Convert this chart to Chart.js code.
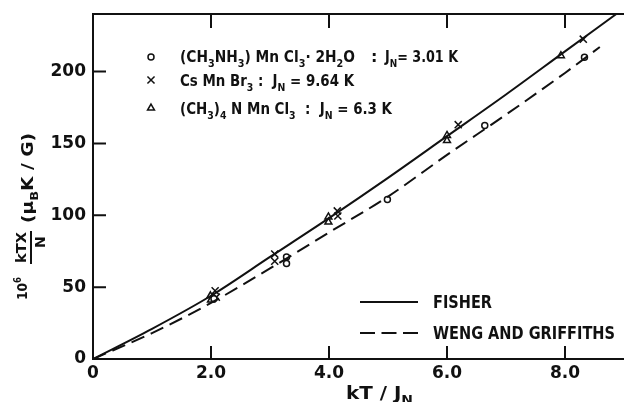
<!DOCTYPE html>
<html>
<head>
<meta charset="utf-8">
<script src="https://cdn.jsdelivr.net/npm/chart.js@4.4.0/dist/chart.umd.min.js"></script>
<style>
  body { margin: 0; background: #fff; }
  #wrap { width: 624px; height: 402px; }
</style>
</head>
<body>
<div id="wrap"><canvas id="chart" width="624" height="402"></canvas></div>
<script>
// curves
const fisherX = [0, 1, 2, 3, 4, 5, 6, 7, 8, 8.87];
const fisherY = [0, 21, 44, 71, 98, 126, 155, 184, 214, 240];
const wengX = [0, 1, 2, 3, 4, 5, 6, 7, 8, 8.59];
const wengY = [0, 18, 39, 63, 88, 113, 142, 170, 199, 217];

// measured points
const circleX = [2.05, 3.28, 3.28, 4.99, 6.64, 8.33];
const circleY = [42, 71, 66.5, 111, 162.5, 210];
const crossX = [2.07, 2.09, 3.08, 3.08, 4.14, 4.15, 6.19, 8.31];
const crossY = [47.5, 43, 73, 68, 103, 99.5, 163, 222.5];
const triX = [1.99, 2.0, 3.99, 3.99, 6.0, 6.0, 7.93];
const triY = [44, 41, 98.8, 95.3, 155.5, 152, 211];

const xTicks = [0, 2, 4, 6, 8];
const yTicks = [0, 50, 100, 150, 200];

const FONT = "'DejaVu Sans', sans-serif";
const INK = "#111";

const pts = (xs, ys) => xs.map((x, i) => ({ x: x, y: ys[i] }));

// draws text with sub/superscripts, optionally squeezed to a width
function drawRich(ctx, parts, x, y, size, fitWidth) {
    ctx.save();
    let total = 0;
    const widths = parts.map(([t, mode]) => {
        ctx.font = "bold " + (mode ? size * 0.7 : size) + "px " + FONT;
        const w = ctx.measureText(t).width;
        total += w;
        return w;
    });
    const sx = fitWidth ? fitWidth / total : 1;
    ctx.translate(x, y);
    ctx.scale(sx, 1);
    ctx.fillStyle = INK;
    ctx.textAlign = "left";
    ctx.textBaseline = "alphabetic";
    let cx = 0;
    parts.forEach(([t, mode], i) => {
        ctx.font = "bold " + (mode ? size * 0.7 : size) + "px " + FONT;
        const dy = mode === "sub" ? size * 0.3 : mode === "sup" ? -size * 0.4 : 0;
        ctx.fillText(t, cx, dy);
        cx += widths[i];
    });
    ctx.restore();
}

const decor = {
    id: "decor",
    afterDraw(chart) {
        const ctx = chart.ctx;
        const area = chart.chartArea;
        const xs = chart.scales.x;
        const ys = chart.scales.y;
        ctx.save();
        ctx.strokeStyle = INK;
        ctx.lineWidth = 2;

        // top frame line
        ctx.beginPath();
        ctx.moveTo(area.left, area.top);
        ctx.lineTo(area.right, area.top);
        ctx.stroke();

        // inward tick marks
        ctx.beginPath();
        xTicks.slice(1).forEach((v) => {
            const px = xs.getPixelForValue(v);
            ctx.moveTo(px, area.bottom);
            ctx.lineTo(px, area.bottom - 13);
            ctx.moveTo(px, area.top);
            ctx.lineTo(px, area.top + 14);
        });
        yTicks.slice(1).forEach((v) => {
            const py = ys.getPixelForValue(v);
            ctx.moveTo(area.left, py);
            ctx.lineTo(area.left + 13, py);
        });
        ctx.stroke();

        // legend: symbols
        const sym = { radius: 0, pointStyle: "circle", rotation: 0, borderWidth: 1.5 };
        ctx.fillStyle = "#fff";
        ctx.lineWidth = 1.5;
        Chart.helpers.drawPoint(ctx, { ...sym, radius: 3, pointStyle: "circle" }, 151, 57);
        Chart.helpers.drawPoint(ctx, { ...sym, radius: 5, pointStyle: "crossRot" }, 151, 80);
        Chart.helpers.drawPoint(ctx, { ...sym, radius: 4, pointStyle: "triangle" }, 151, 108);

        // legend: compounds
        drawRich(ctx, [["(CH", ""], ["3", "sub"], ["NH", ""], ["3", "sub"], [") Mn Cl", ""], ["3", "sub"],
            ["\u00b7 2H", ""], ["2", "sub"], ["O", ""]], 180, 62, 16, 175);
        drawRich(ctx, [[":", ""]], 371, 62, 16);
        drawRich(ctx, [["J", ""], ["N", "sub"], ["= 3.01 K", ""]], 385, 62, 16, 73);
        drawRich(ctx, [["Cs Mn Br", ""], ["3", "sub"], [" :  J", ""], ["N", "sub"], [" = 9.64 K", ""]], 180, 86, 16, 174);
        drawRich(ctx, [["(CH", ""], ["3", "sub"], [")", ""], ["4", "sub"], [" N Mn Cl", ""], ["3", "sub"],
            ["  :  J", ""], ["N", "sub"], [" = 6.3 K", ""]], 180, 114, 16, 212);

        // legend: theory lines
        ctx.lineWidth = 2;
        ctx.beginPath();
        ctx.moveTo(360, 302);
        ctx.lineTo(418, 302);
        ctx.stroke();
        ctx.setLineDash([15, 6.5]);
        ctx.beginPath();
        ctx.moveTo(360, 333);
        ctx.lineTo(418, 333);
        ctx.stroke();
        ctx.setLineDash([]);
        drawRich(ctx, [["FISHER", ""]], 433, 308, 17, 59);
        drawRich(ctx, [["WENG AND GRIFFITHS", ""]], 433, 339, 17, 182);

        // x axis title
        drawRich(ctx, [["kT / J", ""], ["N", "sub"]], 346, 399, 17, 67);

        // y axis title (rotated)
        ctx.save();
        ctx.rotate(-Math.PI / 2);
        drawRich(ctx, [["10", ""], ["6", "sup"]], -300, 27, 14, 23);
        drawRich(ctx, [["kTX", ""]], -263, 26, 14, 31);
        drawRich(ctx, [["N", ""]], -248, 44.5, 14);
        drawRich(ctx, [["(\u03bc", ""], ["B", "sub"], ["K / G)", ""]], -223, 33, 15, 90);
        ctx.restore();
        ctx.beginPath();
        ctx.moveTo(31, 231);
        ctx.lineTo(31, 264);
        ctx.stroke();

        ctx.restore();
    },
};

const ctx = document.getElementById("chart").getContext("2d");

new Chart(ctx, {
    type: "scatter",
    data: {
        datasets: [
            {
                label: "Fisher",
                data: pts(fisherX, fisherY),
                showLine: true,
                borderColor: INK,
                borderWidth: 2,
                pointRadius: 0,
                cubicInterpolationMode: "monotone",
            },
            {
                label: "Weng and Griffiths",
                data: pts(wengX, wengY),
                showLine: true,
                borderColor: INK,
                borderWidth: 2,
                borderDash: [14, 7],
                pointRadius: 0,
                cubicInterpolationMode: "monotone",
            },
            {
                label: "(CH3NH3)MnCl3·2H2O",
                data: pts(circleX, circleY),
                pointStyle: "circle",
                pointRadius: 3,
                borderColor: INK,
                backgroundColor: "#fff",
                borderWidth: 1.5,
            },
            {
                label: "CsMnBr3",
                data: pts(crossX, crossY),
                pointStyle: "crossRot",
                pointRadius: 5,
                borderColor: INK,
                borderWidth: 1.5,
            },
            {
                label: "(CH3)4NMnCl3",
                data: pts(triX, triY),
                pointStyle: "triangle",
                pointRadius: 4,
                borderColor: INK,
                backgroundColor: "#fff",
                borderWidth: 1.5,
            },
        ],
    },
    options: {
        responsive: false,
        animation: false,
        layout: { autoPadding: false, padding: { top: 14, right: 0, left: 0, bottom: 0 } },
        plugins: {
            legend: { display: false },
            tooltip: { enabled: false },
        },
        scales: {
            x: {
                type: "linear",
                min: 0,
                max: 9,
                afterBuildTicks: (scale) => {
                    scale.ticks = xTicks.map((v) => ({ value: v }));
                },
                afterFit: (scale) => {
                    scale.height = 43;
                    scale.paddingLeft = 0;
                    scale.paddingRight = 0;
                },
                grid: { display: false, drawTicks: false },
                border: { display: true, color: INK, width: 2 },
                ticks: {
                    color: INK,
                    padding: 4,
                    font: { family: FONT, size: 17, weight: "bold" },
                    callback: (v) => (v === 0 ? "0" : v.toFixed(1)),
                },
            },
            y: {
                type: "linear",
                min: 0,
                max: 240,
                afterBuildTicks: (scale) => {
                    scale.ticks = yTicks.map((v) => ({ value: v }));
                },
                afterFit: (scale) => {
                    scale.width = 93;
                    scale.paddingTop = 0;
                    scale.paddingBottom = 0;
                },
                grid: { display: false, drawTicks: false },
                border: { display: true, color: INK, width: 2 },
                ticks: {
                    color: INK,
                    padding: 7,
                    font: { family: FONT, size: 17, weight: "bold" },
                    callback: (v) => String(v),
                },
            },
        },
    },
    plugins: [decor],
});
</script>
</body>
</html>
